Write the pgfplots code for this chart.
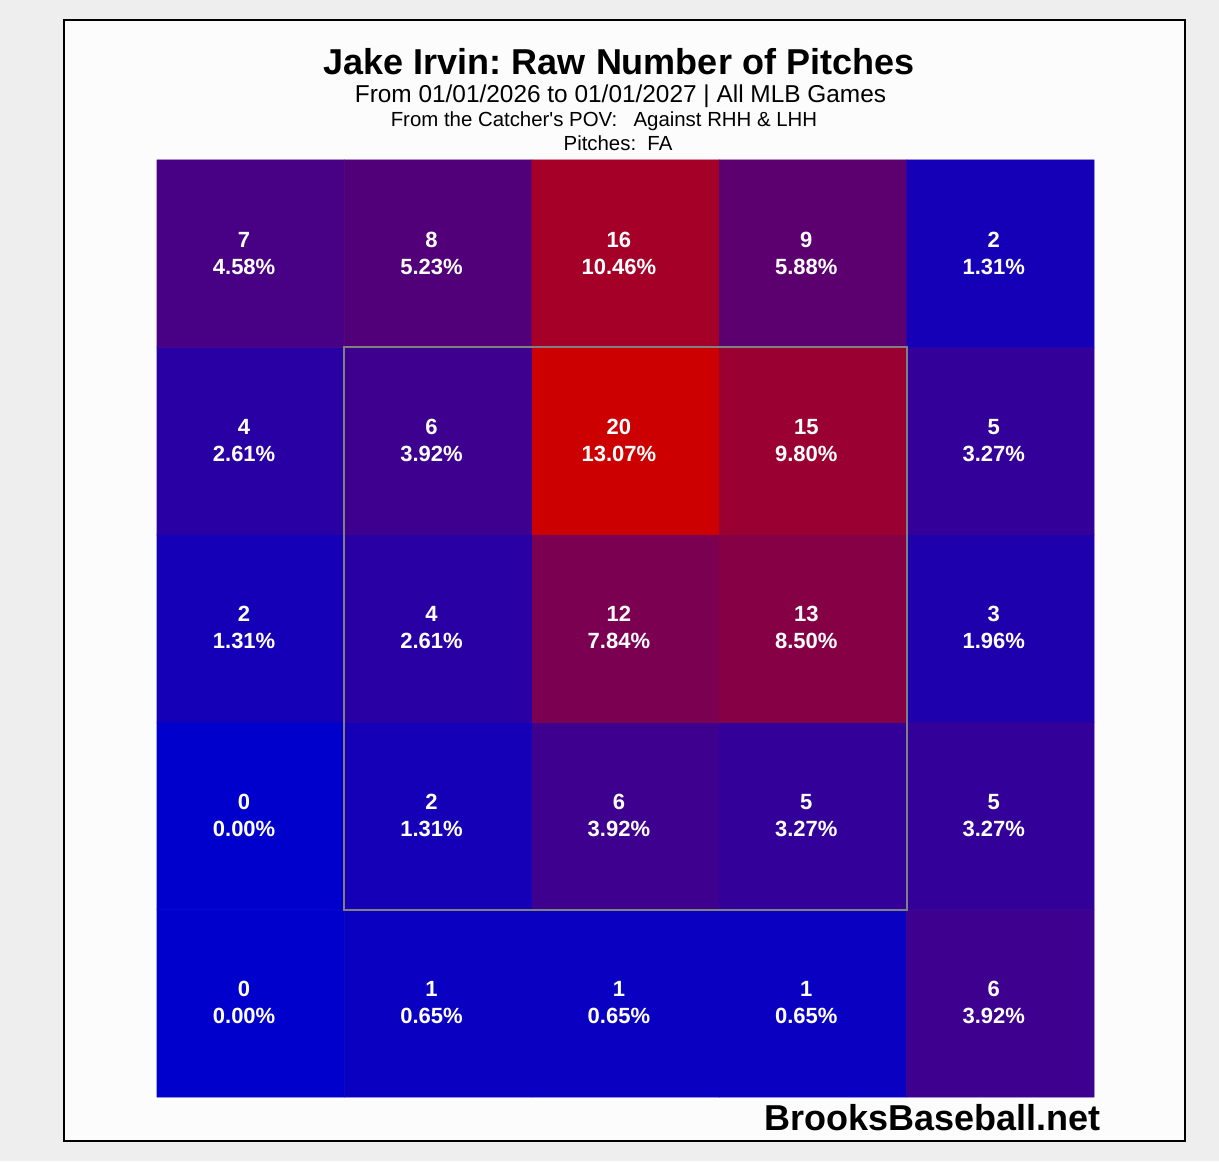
\documentclass[border=0pt]{standalone}
\usepackage{pgfplots}
\pgfplotsset{compat=1.18}
\usepackage{pgfplotstable}
\usepackage{fontspec}
\setmainfont{Liberation Sans}
\frenchspacing
\definecolor{bggray}{RGB}{238,238,238}
\definecolor{panel}{RGB}{252,252,252}
\definecolor{zonegray}{RGB}{128,128,128}

\pgfplotstableread{
x y n p
0 0 0 0.00
1 0 1 0.65
2 0 1 0.65
3 0 1 0.65
4 0 6 3.92
0 1 0 0.00
1 1 2 1.31
2 1 6 3.92
3 1 5 3.27
4 1 5 3.27
0 2 2 1.31
1 2 4 2.61
2 2 12 7.84
3 2 13 8.50
4 2 3 1.96
0 3 4 2.61
1 3 6 3.92
2 3 20 13.07
3 3 15 9.80
4 3 5 3.27
0 4 7 4.58
1 4 8 5.23
2 4 16 10.46
3 4 9 5.88
4 4 2 1.31
}\zone

\begin{document}
\begin{tikzpicture}
\fill[bggray] (0,0) rectangle (609.5pt,580.5pt);
\filldraw[fill=panel, draw=black, line width=1pt] (32pt,10pt) rectangle (592.5pt,570.5pt);
\begin{axis}[
  at={(78.5pt,32pt)}, anchor=south west,
  scale only axis, width=468.5pt, height=468.5pt,
  xmin=-0.5, xmax=4.5, ymin=-0.5, ymax=4.5,
  hide axis, clip=false,
  colormap={br}{rgb255=(0,0,204) rgb255=(204,0,0)},
  point meta min=0, point meta max=20,
]
\addplot[matrix plot*, mesh/cols=5, point meta=explicit, shader=faceted, faceted color=mapped color, line width=0.3pt]
  table[x=x, y=y, meta=n] {\zone};
\draw[zonegray, line width=1pt] (axis cs:0.5,0.5) rectangle (axis cs:3.5,3.5);
\addplot[draw=none, mark=none, point meta=explicit symbolic, nodes near coords,
  every node near coord/.append style={anchor=center, text=white, inner sep=0pt, yshift=7.1pt, xshift=-3.3pt,
    font=\fontsize{11}{13}\selectfont\bfseries}]
  table[x=x, y=y, meta=n] {\zone};
\addplot[draw=none, mark=none, point meta=explicit symbolic, nodes near coords={\pgfplotspointmeta\%},
  every node near coord/.append style={anchor=center, text=white, inner sep=0pt, yshift=-6.4pt, xshift=-3.3pt,
    font=\fontsize{11}{13}\selectfont\bfseries}]
  table[x=x, y=y, meta=p] {\zone};
\end{axis}
\node[anchor=base, inner sep=0pt, font=\fontsize{18}{20}\selectfont\bfseries] at (309.5pt,543pt) {Jake Irvin: Raw Number of Pitches};
\node[anchor=base, inner sep=0pt, font=\fontsize{12.2}{14}\selectfont] at (310.25pt,529pt) {From 01/01/2026 to 01/01/2027 | All MLB Games};
\node[anchor=base, inner sep=0pt, font=\fontsize{10.2}{12}\selectfont] at (302pt,517pt) {From the Catcher\textquotesingle s POV:\hspace{0.8em}Against RHH \& LHH};
\node[anchor=base, inner sep=0pt, font=\fontsize{10.2}{12}\selectfont] at (309pt,505pt) {Pitches:\hspace{0.55em}FA};
\node[anchor=base east, inner sep=0pt, font=\fontsize{18}{20}\selectfont\bfseries] at (550.5pt,15.5pt) {BrooksBaseball.net};
\end{tikzpicture}
\end{document}
